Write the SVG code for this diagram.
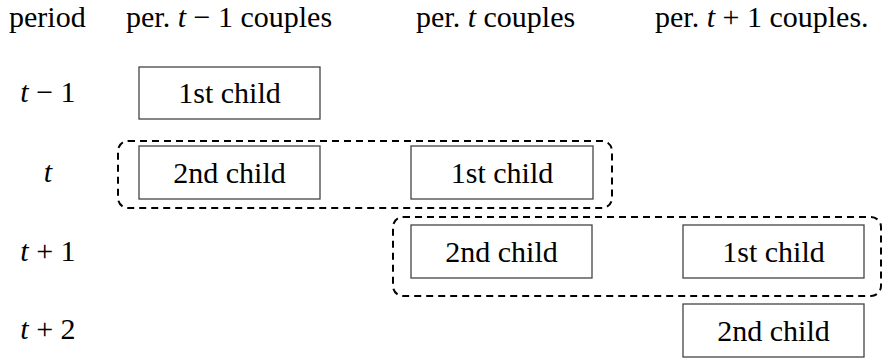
<svg xmlns="http://www.w3.org/2000/svg" width="883" height="362" viewBox="0 0 883 362">
<style>
text { font-family: "Liberation Serif", "DejaVu Serif", "Times New Roman", serif; font-size: 30px; fill: #000; }
.m { font-style: italic; }
.box rect { fill: #fff; stroke: #444; stroke-width: 1.3; }
.box text { text-anchor: middle; }
.grp { fill: none; stroke: #000; stroke-width: 2; stroke-dasharray: 7 5; }
.row { text-anchor: middle; }
</style>
<rect width="883" height="362" fill="#fff"/>
<g id="headers">
  <text x="9" y="27">period</text>
  <text x="126" y="27">per. <tspan class="m">t</tspan> − 1 couples</text>
  <text x="416" y="27">per. <tspan class="m">t</tspan> couples</text>
  <text x="655" y="27">per. <tspan class="m">t</tspan> + 1 couples.</text>
</g>
<g id="rowlabels">
  <text class="row" x="48" y="102"><tspan class="m">t</tspan> − 1</text>
  <text class="row" x="48" y="182"><tspan class="m">t</tspan></text>
  <text class="row" x="48" y="261"><tspan class="m">t</tspan> + 1</text>
  <text class="row" x="48" y="339"><tspan class="m">t</tspan> + 2</text>
</g>
<g id="connectors">
  <rect class="grp" x="118" y="141" width="494" height="67" rx="10"/>
  <rect class="grp" x="393" y="217" width="488" height="79" rx="10"/>
</g>
<g id="n1" class="box"><rect x="139" y="67" width="181" height="52"/><text x="229.5" y="103">1st child</text></g>
<g id="n2" class="box"><rect x="139" y="146" width="181" height="53"/><text x="229.5" y="183">2nd child</text></g>
<g id="n3" class="box"><rect x="411" y="146" width="182" height="53"/><text x="502" y="183">1st child</text></g>
<g id="n4" class="box"><rect x="411" y="225" width="181" height="53"/><text x="501.5" y="262">2nd child</text></g>
<g id="n5" class="box"><rect x="683" y="225" width="181" height="53"/><text x="773.5" y="262">1st child</text></g>
<g id="n6" class="box"><rect x="683" y="304" width="181" height="53"/><text x="773.5" y="341">2nd child</text></g>
</svg>
